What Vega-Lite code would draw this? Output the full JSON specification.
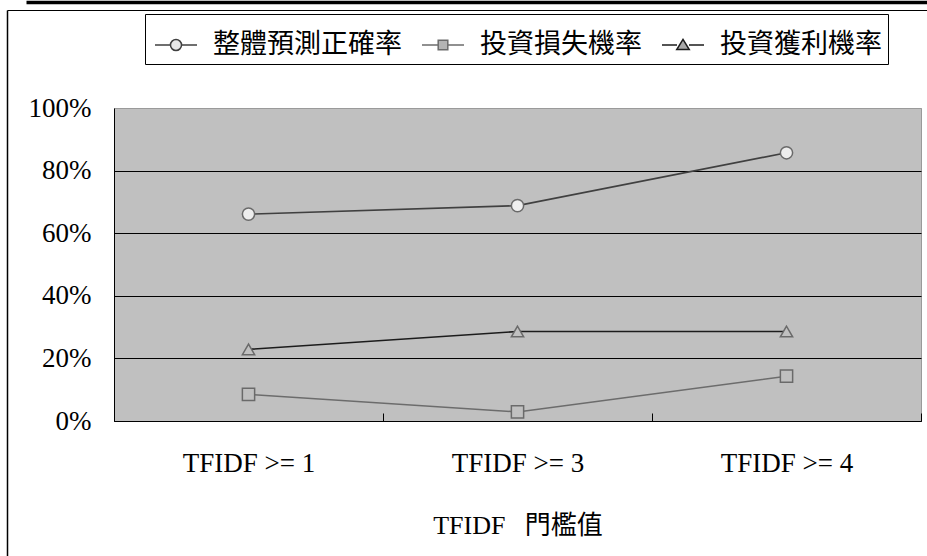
{
  "$schema": "https://vega.github.io/schema/vega-lite/v6.json",
  "width": 807,
  "height": 313,
  "autosize": {"type": "none"},
  "padding": {"left": 114, "top": 108, "right": 6, "bottom": 135},
  "background": "white",
  "config": {
    "view": {"fill": "#c0c0c0", "stroke": "#9a9a9a", "strokeWidth": 1},
    "legend": {
      "orient": "none",
      "legendX": 31,
      "legendY": -94,
      "direction": "horizontal",
      "title": null,
      "labelFont": "Noto Sans CJK TC",
      "labelFontSize": 27,
      "labelColor": "black",
      "labelLimit": 0,
      "labelOffset": 12,
      "columnPadding": 16,
      "strokeColor": "black",
      "fillColor": "white",
      "padding": 6,
      "symbolSize": 2304,
      "symbolStrokeWidth": 1.5
    }
  },
  "data": {
    "values": [
      {"threshold": "TFIDF >= 1", "series": "整體預測正確率", "rate": 0.661},
      {"threshold": "TFIDF >= 3", "series": "整體預測正確率", "rate": 0.688},
      {"threshold": "TFIDF >= 4", "series": "整體預測正確率", "rate": 0.857},
      {"threshold": "TFIDF >= 1", "series": "投資損失機率", "rate": 0.085},
      {"threshold": "TFIDF >= 3", "series": "投資損失機率", "rate": 0.029},
      {"threshold": "TFIDF >= 4", "series": "投資損失機率", "rate": 0.143},
      {"threshold": "TFIDF >= 1", "series": "投資獲利機率", "rate": 0.229},
      {"threshold": "TFIDF >= 3", "series": "投資獲利機率", "rate": 0.286},
      {"threshold": "TFIDF >= 4", "series": "投資獲利機率", "rate": 0.286}
    ]
  },
  "layer": [
    {
      "encoding": {
        "x": {
          "field": "threshold",
          "type": "nominal",
          "sort": ["TFIDF >= 1", "TFIDF >= 3", "TFIDF >= 4"],
          "scale": {"type": "band", "paddingInner": 0, "paddingOuter": 0},
          "axis": {
            "title": "TFIDF\u00a0\u00a0\u00a0門檻值",
            "labelAngle": 0,
            "tickBand": "extent",
            "tickSize": -8,
            "tickColor": "black",
            "domainColor": "black",
            "labelFont": "Liberation Serif",
            "labelFontSize": 27,
            "labelColor": "black",
            "labelPadding": 37,
            "titleFont": "Liberation Serif, Noto Sans CJK TC",
            "titleFontSize": 26,
            "titleFontWeight": "normal",
            "titleColor": "black",
            "titlePadding": 36,
            "grid": false
          }
        },
        "y": {
          "field": "rate",
          "type": "quantitative",
          "scale": {"domain": [0, 1]},
          "axis": {
            "title": null,
            "format": ".0%",
            "values": [0, 0.2, 0.4, 0.6, 0.8, 1],
            "grid": true,
            "gridColor": {"condition": {"test": "datum.value === 1", "value": "#9a9a9a"}, "value": "black"},
            "gridOpacity": 1,
            "gridWidth": 1,
            "domainColor": "black",
            "ticks": false,
            "labelFont": "Liberation Serif",
            "labelFontSize": 27,
            "labelColor": "black",
            "labelPadding": 23
          }
        }
      },
      "layer": [
        {
          "mark": {"type": "line"},
          "encoding": {
            "stroke": {
              "field": "series",
              "type": "nominal",
              "sort": ["整體預測正確率", "投資損失機率", "投資獲利機率"],
              "scale": {"range": ["#404040", "#6c6c6c", "#1c1c1c"]},
              "legend": {
                "encode": {
                  "symbols": {
                    "update": {
                      "shape": {"signal": "datum.value === '整體預測正確率' ? 'M-0.875,0H-0.23M0.23,0H0.875M0.23,0A0.23,0.23 0 1,1 -0.23,0A0.23,0.23 0 1,1 0.23,0Z' : datum.value === '投資損失機率' ? 'M-0.875,0H-0.2M0.2,0H0.875M-0.2,-0.2H0.2V0.2H-0.2Z' : 'M-0.875,0H-0.25M0.25,0H0.875M0,-0.23L0.26,0.19H-0.26Z'"},
                      "fill": {"signal": "datum.value === '整體預測正確率' ? '#e8e8e8' : datum.value === '投資損失機率' ? '#b4b4b4' : '#a8a8a8'"},
                      "strokeWidth": {"value": 1.5},
                      "opacity": {"value": 1}
                    }
                  }
                }
              }
            },
            "strokeWidth": {
              "field": "series",
              "type": "nominal",
              "sort": ["整體預測正確率", "投資損失機率", "投資獲利機率"],
              "scale": {"range": [1.6, 1.6, 2.1]},
              "legend": null
            }
          }
        },
        {
          "mark": {"type": "point", "filled": true, "opacity": 1, "stroke": "#6a6a6a", "strokeWidth": 1.5},
          "encoding": {
            "shape": {
              "field": "series",
              "type": "nominal",
              "sort": ["整體預測正確率", "投資損失機率", "投資獲利機率"],
              "scale": {"range": ["circle", "square", "triangle-up"]},
              "legend": null
            },
            "fill": {
              "field": "series",
              "type": "nominal",
              "sort": ["整體預測正確率", "投資損失機率", "投資獲利機率"],
              "scale": {"range": ["#eeeeee", "#c0c0c0", "#c0c0c0"]},
              "legend": null
            },
            "size": {
              "field": "series",
              "type": "nominal",
              "sort": ["整體預測正確率", "投資損失機率", "投資獲利機率"],
              "scale": {"range": [150, 150, 230]},
              "legend": null
            }
          }
        }
      ]
    },
    {
      "mark": {"type": "point", "opacity": 0},
      "encoding": {
        "x": {
          "datum": 0,
          "type": "quantitative",
          "scale": {"domain": [0, 1], "range": [-107, 813]},
          "axis": {"orient": "top", "offset": 98, "labels": false, "ticks": false, "grid": false, "title": null, "domainColor": "black", "domainWidth": 1.2}
        },
        "y": {
          "datum": 0,
          "type": "quantitative",
          "scale": {"domain": [0, 1], "range": [448, -98]},
          "axis": {"orient": "left", "offset": 107, "labels": false, "ticks": false, "grid": false, "title": null, "domainColor": "black", "domainWidth": 1.5}
        }
      }
    },
    {
      "mark": {"type": "point", "opacity": 0},
      "encoding": {
        "x": {
          "datum": 0,
          "type": "quantitative",
          "scale": {"domain": [0, 1], "range": [-88, 813]},
          "axis": {"orient": "top", "offset": 106, "labels": false, "ticks": false, "grid": false, "title": null, "domainColor": "black", "domainWidth": 3.5}
        },
        "y": {
          "datum": 0,
          "type": "quantitative",
          "scale": {"domain": [0, 1]},
          "axis": null
        }
      }
    }
  ],
  "resolve": {
    "scale": {"x": "independent", "y": "independent", "fill": "independent"},
    "axis": {"x": "independent", "y": "independent"}
  }
}
